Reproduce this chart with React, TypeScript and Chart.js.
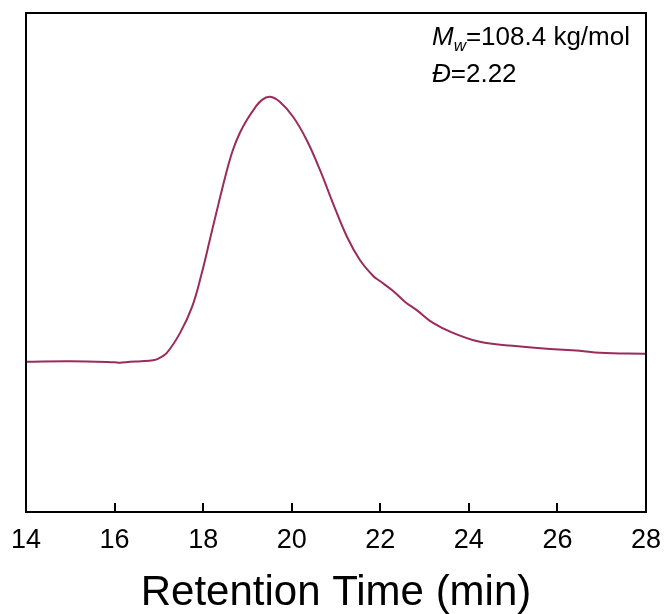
import React, { useEffect, useRef } from "react";
import { Chart, registerables } from "chart.js";

Chart.register(...registerables);

// Retention time (min) and detector signal (arbitrary units, 0–100 of the plot height)
const retentionTime = [
  14, 15, 16, 16.12, 16.35, 16.6, 16.87, 17.0, 17.18, 17.48, 17.75, 17.97, 18.15,
  18.34, 18.52, 18.67, 18.83, 18.99, 19.17, 19.33, 19.51, 19.73, 20.03, 20.34,
  20.64, 20.93, 21.25, 21.54, 21.84, 21.99, 22.29, 22.56, 22.83, 23.19, 23.64,
  24.25, 24.99, 25.76, 26.5, 26.96, 27.93, 28,
];
const signal = [
  30.1, 30.2, 30.0, 29.9, 30.1, 30.2, 30.4, 30.8, 31.9, 35.9, 41.1, 47.9, 54.5,
  61.5, 67.9, 72.5, 76.0, 78.6, 81.0, 82.6, 83.2, 82.2, 79.2, 74.5,
  68.5, 61.9, 55.1, 50.5, 47.3, 46.3, 44.3, 42.1, 40.4, 37.9, 35.9,
  34.1, 33.3, 32.7, 32.3, 31.9, 31.7, 31.7,
];
const xTicks = [14, 16, 18, 20, 22, 24, 26, 28];
const xTitle = "Retention Time (min)";
const mwLabel = { main: "M", sub: "w", rest: "=108.4 kg/mol" };
const dispersityLabel = { symbol: "Đ", rest: "=2.22" };

const FONT = "'Liberation Sans', Arial, sans-serif";

const framePlugin = {
  id: "frameAndTicks",
  afterDraw(chart: any) {
    const { ctx, chartArea } = chart;
    const xs = chart.scales.x;
    ctx.save();
    ctx.strokeStyle = "#000";
    ctx.lineWidth = 2;
    // inward tick marks
    ctx.beginPath();
    xTicks.forEach((v) => {
      if (v === xs.min || v === xs.max) return;
      const px = Math.round(xs.getPixelForValue(v));
      ctx.moveTo(px, chartArea.bottom);
      ctx.lineTo(px, chartArea.bottom - 9);
    });
    ctx.stroke();
    ctx.strokeRect(chartArea.left, chartArea.top, chartArea.right - chartArea.left, chartArea.bottom - chartArea.top);

    // annotation
    ctx.fillStyle = "#000";
    ctx.textBaseline = "alphabetic";
    ctx.textAlign = "left";
    let x = chartArea.left + 406;
    const y1 = chartArea.top + 32;
    ctx.font = `italic 26px ${FONT}`;
    ctx.fillText(mwLabel.main, x, y1);
    x += ctx.measureText(mwLabel.main).width;
    ctx.font = `italic 17px ${FONT}`;
    ctx.fillText(mwLabel.sub, x, y1 + 6);
    x += ctx.measureText(mwLabel.sub).width;
    ctx.font = `26px ${FONT}`;
    ctx.fillText(mwLabel.rest, x, y1);

    let x2 = chartArea.left + 406;
    const y2 = chartArea.top + 69;
    ctx.font = `italic 26px ${FONT}`;
    ctx.fillText(dispersityLabel.symbol, x2, y2);
    x2 += ctx.measureText(dispersityLabel.symbol).width;
    ctx.font = `26px ${FONT}`;
    ctx.fillText(dispersityLabel.rest, x2, y2);
    ctx.restore();
  },
};

export default function App() {
  const ref = useRef<HTMLCanvasElement | null>(null);
  useEffect(() => {
    if (!ref.current) return;
    const chart = new Chart(ref.current, {
      type: "line",
      data: {
        datasets: [
          {
            data: retentionTime.map((t, i) => ({ x: t, y: signal[i] })),
            borderColor: "#9b2b5b",
            borderWidth: 2,
            pointRadius: 0,
            tension: 0.4,
            fill: false,
          },
        ],
      },
      options: {
        animation: false,
        responsive: false,
        maintainAspectRatio: false,
        layout: { padding: { left: 26, right: 21, top: 13, bottom: 0 } },
        plugins: { legend: { display: false }, tooltip: { enabled: false } },
        scales: {
          x: {
            type: "linear",
            min: 14,
            max: 28,
            afterBuildTicks: (scale: any) => {
              scale.ticks = xTicks.map((v) => ({ value: v }));
            },
            afterFit: (scale: any) => {
              scale.height = 102;
              scale.paddingLeft = 0;
              scale.paddingRight = 0;
            },
            grid: { display: false, drawTicks: false },
            border: { display: false },
            ticks: {
              color: "#000",
              font: { family: FONT, size: 27 },
              padding: 12,
              maxRotation: 0,
              autoSkip: false,
            },
            title: {
              display: true,
              text: xTitle,
              color: "#000",
              font: { family: FONT, size: 42, lineHeight: 1 },
              padding: { top: 0, bottom: 0 },
            },
          },
          y: { display: false, min: 0, max: 100 },
        },
      },
      plugins: [framePlugin],
    });
    return () => chart.destroy();
  }, []);
  return (
    <div style={{ position: "absolute", left: 0, top: 0, width: 667, height: 614, background: "#fff" }}>
      <canvas ref={ref} width={667} height={614} />
    </div>
  );
}
